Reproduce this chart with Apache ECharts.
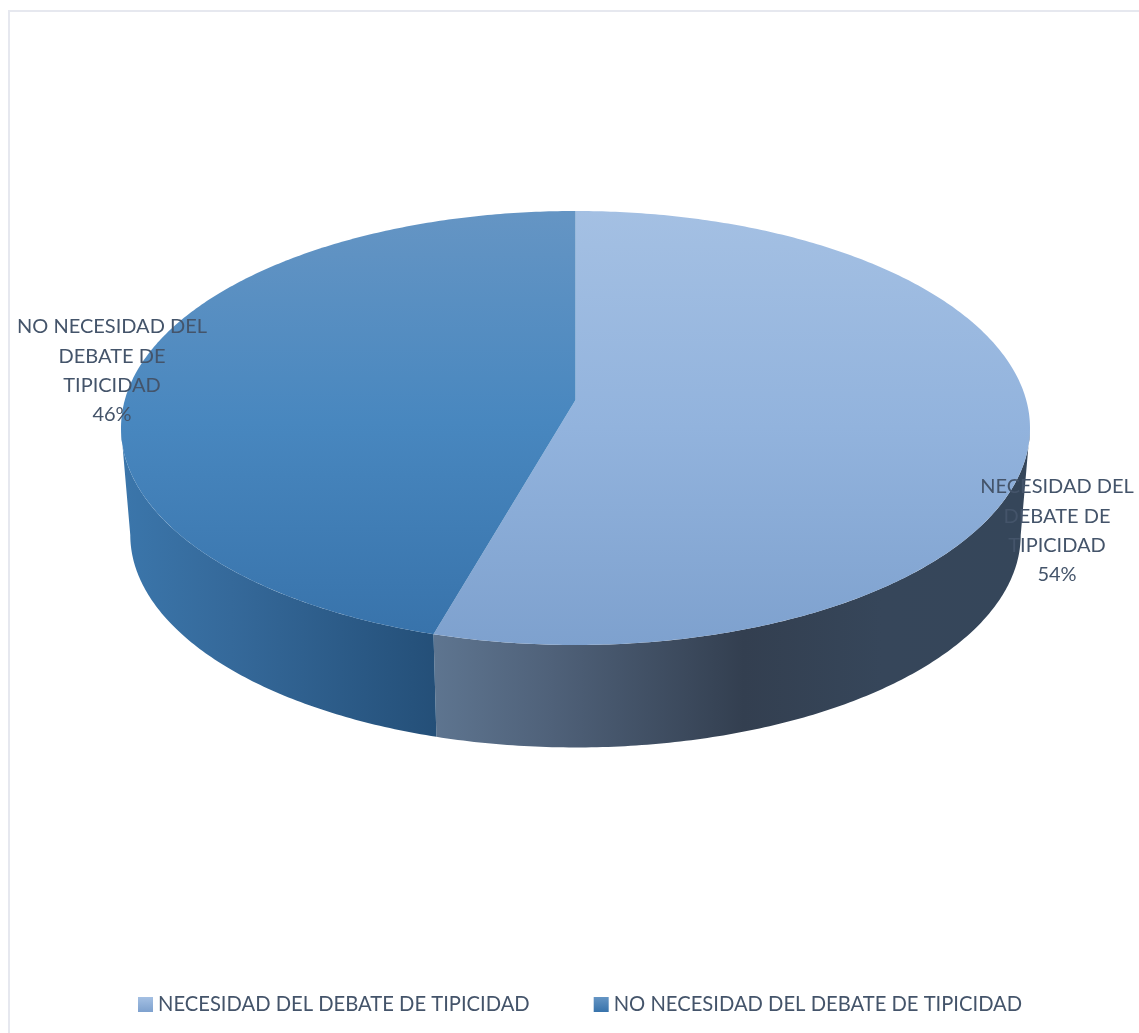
<!DOCTYPE html>
<html><head><meta charset="utf-8">
<style>html,body{margin:0;padding:0;background:#fff}#c{width:1139px;height:1033px}</style>
<script src="https://cdn.jsdelivr.net/npm/echarts@6/dist/echarts.min.js"></script>
</head><body><div id="c"></div>
<script>
const categories = ['NECESIDAD DEL DEBATE DE TIPICIDAD', 'NO NECESIDAD DEL DEBATE DE TIPICIDAD'];
const shareValues = [54.45, 45.55];
const shareLabels = ['54%', '46%'];
const labelLines = [['NECESIDAD DEL', 'DEBATE DE', 'TIPICIDAD'], ['NO NECESIDAD DEL', 'DEBATE DE', 'TIPICIDAD']];

const FONT = 'Lato, "Open Sans", sans-serif';
const TEXT = '#44546a';
const total = shareValues.reduce((a, b) => a + b, 0);
const K = 0.129;
const TOP = {x: 575.5, y: 400, a: 450.7, b: 213.4};
const BASE = {x: 575.5, y: 507.5, a: 441.5, b: 209};
const RIM_START = Math.acos(-K);
const RIM_END = 2 * Math.PI - RIM_START;
function proj(g, th) {
  const u = Math.sin(th), v = Math.cos(th), w = 1 + K * v;
  return [g.x + g.a * u / w, g.y - g.b * v / w];
}
function arc(g, t0, t1) {
  const n = Math.max(8, Math.ceil(Math.abs(t1 - t0) * 90)), pts = [];
  for (let i = 0; i <= n; i++) pts.push(proj(g, t0 + (t1 - t0) * i / n));
  return pts;
}
function linear(horizontal, stops) {
  return {type: 'linear', x: 0, y: 0, x2: horizontal ? 1 : 0, y2: horizontal ? 0 : 1,
    colorStops: stops.map(s => ({offset: s[0], color: s[1]}))};
}
const topFills = [
  linear(false, [[0, '#a4c0e3'], [0.5, '#92b3dd'], [1, '#7ea1ce']]),
  linear(false, [[0, '#6595c4'], [0.5, '#4887bf'], [1, '#3873ab']])
];
const wallFills = [
  linear(true, [[0, '#5e7590'], [0.2, '#4f6179'], [0.52, '#333f50'], [0.75, '#36465a'], [1, '#35465a']]),
  linear(true, [[0, '#3b76ab'], [0.35, '#35699a'], [1, '#244f78']])
];
const legendFills = [
  linear(false, [[0, '#a4c0e3'], [1, '#7ea1ce']]),
  linear(false, [[0, '#6595c4'], [1, '#3873ab']])
];
const labelAnchors = [[112, 312], [1057, 472]];
const labelOrder = [1, 0];

function sliceAngles(i) {
  let s = 0;
  for (let k = 0; k < i; k++) s += shareValues[k];
  return [s / total * 2 * Math.PI, (s + shareValues[i]) / total * 2 * Math.PI];
}
function wallRender(i) {
  return function () {
    const [a0, a1] = sliceAngles(i);
    // only the front of the rim is ever visible
    const t0 = Math.max(a0, RIM_START), t1 = Math.min(a1, RIM_END);
    const pts = arc(TOP, t0, t1).concat(arc(BASE, t1, t0));
    return {type: 'polygon', shape: {points: pts}, style: {fill: wallFills[i]}, z2: 1};
  };
}
function topRender(i) {
  return function () {
    const [a0, a1] = sliceAngles(i);
    const pts = [[TOP.x, TOP.y]].concat(arc(TOP, a0, a1));
    return {type: 'polygon', shape: {points: pts}, style: {fill: topFills[i]}, z2: 2};
  };
}
const series = [];
categories.forEach((name, i) => {
  series.push({type: 'custom', name: name + ' (lateral)', coordinateSystem: 'none', silent: true, z: 1,
    data: [shareValues[i]], renderItem: wallRender(i)});
});
categories.forEach((name, i) => {
  series.push({type: 'custom', name, coordinateSystem: 'none', z: 2,
    itemStyle: {color: legendFills[i]},
    data: [shareValues[i]], renderItem: topRender(i)});
});
const chart = echarts.init(document.getElementById('c'), null, {renderer: 'canvas'});
chart.setOption({
  animation: false,
  backgroundColor: '#fff',
  textStyle: {fontFamily: FONT},
  legend: {
    data: categories.map(n => ({name: n, icon: 'rect'})),
    left: 138, top: 994.5, padding: 0, itemWidth: 15, itemHeight: 15, itemGap: 64,
    textStyle: {fontFamily: FONT, fontSize: 20.2, color: TEXT}
  },
  graphic: [
    {type: 'rect', shape: {x: 8, y: 10, width: 2, height: 1023}, style: {fill: '#e6e8ef'}, silent: true},
    {type: 'rect', shape: {x: 8, y: 10, width: 1131, height: 2}, style: {fill: '#e6e8ef'}, silent: true}
  ].concat(labelOrder.map((idx, j) => ({
    type: 'text', x: labelAnchors[j][0], y: labelAnchors[j][1], z: 10, silent: true,
    style: {
      text: labelLines[idx].concat([shareLabels[idx]]).join('\n'),
      fill: TEXT, font: '20px ' + FONT, align: 'center', lineHeight: 29.4
    }
  }))),
  series
});
</script></body></html>
